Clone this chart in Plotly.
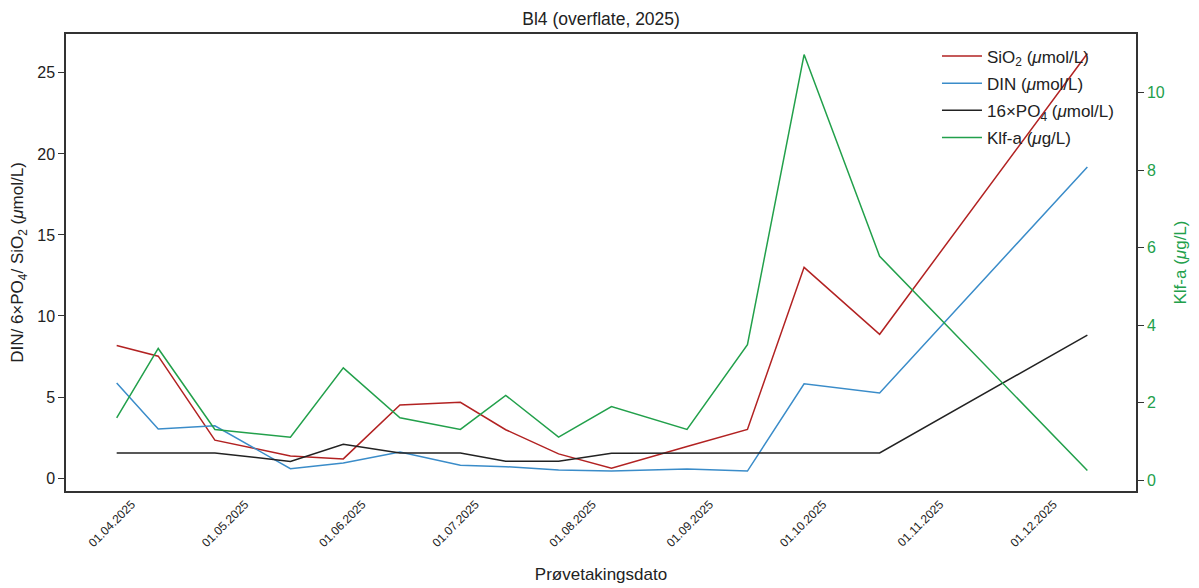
import plotly.graph_objects as go

# Prøvetakingsdatoer og målte verdier
datoer = ["2025-03-28", "2025-04-08", "2025-04-23", "2025-05-13", "2025-05-27",
          "2025-06-11", "2025-06-27", "2025-07-09", "2025-07-23", "2025-08-06",
          "2025-08-26", "2025-09-11", "2025-09-26", "2025-10-16", "2025-12-10"]

sio2 = [8.18, 7.52, 2.34, 1.36, 1.18, 4.51, 4.67, 2.98, 1.49, 0.60,
        1.95, 3.0, 13.0, 8.87, 26.2]
din = [5.87, 3.02, 3.22, 0.58, 0.93, 1.61, 0.79, 0.70, 0.50, 0.43,
       0.56, 0.43, 5.81, 5.25, 19.2]
po4_16 = [1.55, 1.55, 1.55, 1.02, 2.09, 1.55, 1.55, 1.04, 1.04, 1.53,
          1.55, 1.53, 1.55, 1.55, 8.82]
klfa = [1.61, 3.40, 1.31, 1.11, 2.90, 1.61, 1.31, 2.19, 1.11, 1.90,
        1.31, 3.50, 10.99, 5.78, 0.25]

tick_datoer = ["2025-04-01", "2025-05-01", "2025-06-01", "2025-07-01", "2025-08-01",
               "2025-09-01", "2025-10-01", "2025-11-01", "2025-12-01"]
tick_tekst = ["01.04.2025", "01.05.2025", "01.06.2025", "01.07.2025", "01.08.2025",
              "01.09.2025", "01.10.2025", "01.11.2025", "01.12.2025"]

rod = "#b22222"
bla = "#3a8cc9"
svart = "#222222"
gronn = "#22a04b"
akse = "#333333"

fig = go.Figure()
serier = [
    (sio2, rod, "SiO<sub>2</sub> (<i>μ</i>mol/L)", "y"),
    (din, bla, "DIN (<i>μ</i>mol/L)", "y"),
    (po4_16, svart, "16×PO<sub>4</sub> (<i>μ</i>mol/L)", "y"),
    (klfa, gronn, "Klf-a (<i>μ</i>g/L)", "y2"),
]
for i, (verdier, farge, navn, akse_y) in enumerate(serier):
    fig.add_trace(go.Scatter(x=datoer, y=verdier, mode="lines",
                             line=dict(color=farge, width=1.5),
                             name=navn, yaxis=akse_y, legendgroup=f"g{i}"))

# siden har 8 px kant rundt figuren, derfor litt mindre figur og marger
fig.update_layout(
    width=1191, height=580,
    margin=dict(l=58, r=63, t=26, b=97),
    paper_bgcolor="white", plot_bgcolor="white",
    font=dict(family="Liberation Sans, Arial, sans-serif", color="#222222", size=16),
    title=dict(text="Bl4 (overflate, 2025)", x=0.498, xanchor="center", y=0.982,
               yanchor="middle", font=dict(size=17.5)),
    xaxis=dict(type="date", range=["2025-03-14 14:00", "2025-12-22 21:00"],
               tickvals=tick_datoer, ticktext=tick_tekst, tickangle=-45,
               tickfont=dict(size=12), ticks="", showgrid=False, zeroline=False,
               showline=True, linecolor=akse, linewidth=1.5, mirror=True,
               automargin=False,
               title=dict(text="Prøvetakingsdato", standoff=19, font=dict(size=17))),
    yaxis=dict(range=[-0.8, 27.4], tickvals=[0, 5, 10, 15, 20, 25], ticks="outside",
               ticklen=6, tickcolor=akse, showgrid=False, zeroline=False,
               showline=True, linecolor=akse, linewidth=1.5, automargin=False,
               title=dict(text="DIN/ 6×PO<sub>4</sub>/ SiO<sub>2</sub> (<i>μ</i>mol/L)",
                          standoff=9, font=dict(size=17))),
    yaxis2=dict(range=[-0.28, 11.52], tickvals=[0, 2, 4, 6, 8, 10], overlaying="y",
                side="right", ticks="outside", ticklen=6, tickcolor=akse,
                tickfont=dict(color=gronn), showgrid=False, zeroline=False,
                showline=True, linecolor=akse, linewidth=1.5, automargin=False,
                title=dict(text="Klf-a (<i>μ</i>g/L)", standoff=10,
                           font=dict(color=gronn, size=17))),
    legend=dict(x=0.814, xanchor="left", y=0.99, yanchor="top",
                bgcolor="rgba(255,255,255,0)", font=dict(size=17),
                traceorder="grouped", tracegroupgap=2, itemwidth=40),
    showlegend=True,
)

fig.write_html("out.html")
